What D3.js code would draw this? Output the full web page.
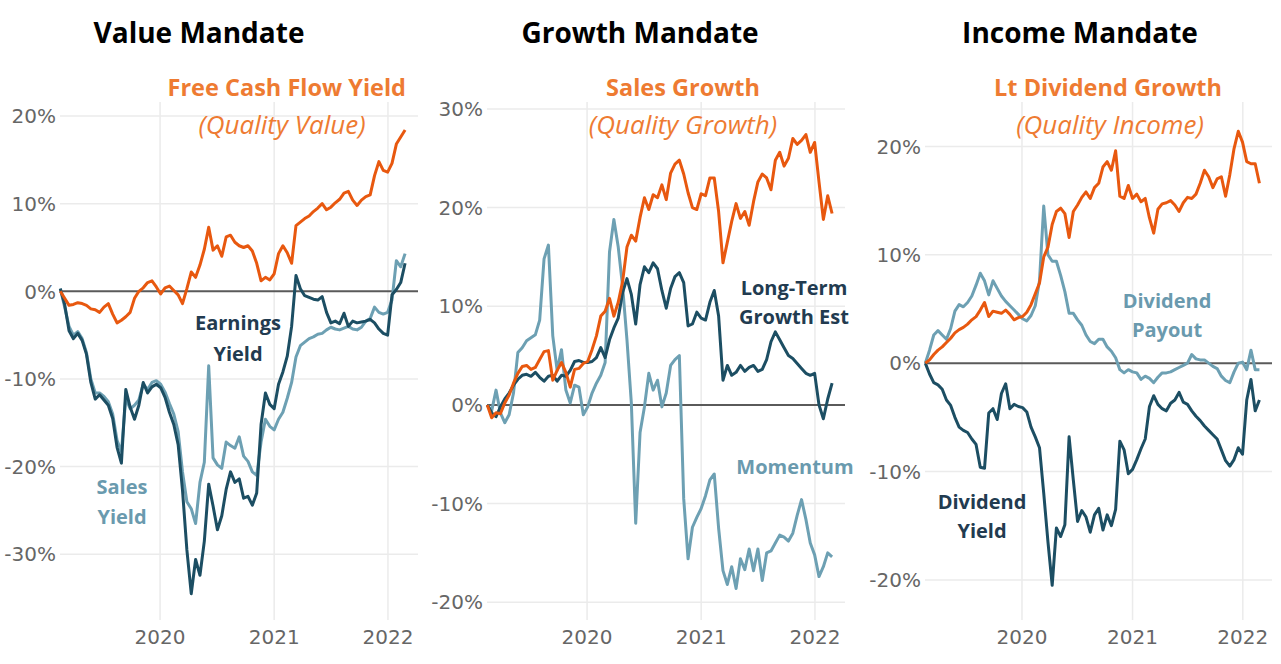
<!DOCTYPE html>
<html>
<head>
<meta charset="utf-8">
<script src="https://cdn.jsdelivr.net/npm/d3@7"></script>
<style>
  html, body { margin: 0; padding: 0; background: #ffffff; }
  svg { display: block; }
</style>
</head>
<body>
<svg id="chart" width="1281" height="664"></svg>
<script>
// ---------------- DATA ----------------
// sampling dates: every 2 weeks starting mid-Feb 2019 (80 observations)
const startDate = new Date(2019, 1, 15);
const dates = d3.range(80).map(i => d3.timeDay.offset(startDate, 14 * i));

const panelTitles = ["Value Mandate", "Growth Mandate", "Income Mandate"];
const qualityNames = ["Free Cash Flow Yield", "Sales Growth", "Lt Dividend Growth"];
const qualitySubs = ["(Quality Value)", "(Quality Growth)", "(Quality Income)"];
const yearTicks = [2020, 2021, 2022];
const yTicks1 = [-30, -20, -10, 0, 10, 20];
const yTicks2 = [-20, -10, 0, 10, 20, 30];
const yTicks3 = [-20, -10, 0, 10, 20];

// Value mandate (cumulative relative return, %)
const freeCashFlowYield = [0,-0.8,-1.6,-1.5,-1.3,-1.4,-1.6,-2.0,-2.1,-2.4,-1.8,-1.4,-2.6,-3.6,-3.3,-2.9,-2.4,-0.8,0.0,0.4,
  1.0,1.2,0.5,-0.3,0.4,0.6,0.1,-0.4,-1.4,0.3,2.2,1.6,3.0,4.8,7.3,4.7,5.2,4.0,6.2,6.4,
  5.6,5.2,5.0,5.2,4.6,3.2,1.2,1.6,1.3,2.0,4.3,5.2,4.4,3.2,7.5,7.9,8.3,8.6,9.1,9.5,
  10.0,9.3,9.6,10.1,10.5,11.2,11.4,10.4,9.8,10.4,10.8,11.0,13.2,14.8,13.8,13.6,14.6,16.8,17.6,18.4];
const earningsYield = [0.3,-1.5,-4.5,-5.4,-4.8,-5.6,-7.2,-10.4,-12.3,-11.8,-12.4,-13.0,-14.5,-17.8,-19.6,-11.2,-13.2,-14.6,-13.0,-10.4,
  -11.6,-10.9,-10.6,-11.0,-12.1,-13.8,-15.2,-17.5,-22.7,-29.5,-34.5,-30.6,-32.4,-28.5,-22.0,-24.5,-27.2,-25.6,-22.6,-20.6,
  -21.8,-21.4,-23.6,-23.4,-24.4,-23.0,-15.2,-11.6,-12.9,-13.4,-10.6,-9.2,-7.4,-4.0,1.8,0.3,-0.5,-0.7,-0.9,-1.0,
  -0.6,-2.4,-3.6,-3.4,-3.7,-2.5,-4.0,-3.4,-3.6,-3.5,-3.4,-3.2,-3.6,-4.3,-4.8,-5.0,-0.4,0.2,1.0,3.2];
const salesYield = [0.3,-1.8,-4.0,-5.0,-4.6,-5.4,-7.0,-10.0,-11.6,-11.6,-12.0,-12.6,-14.0,-17.0,-18.3,-12.2,-13.4,-13.0,-12.4,-10.6,
  -11.2,-10.4,-10.2,-10.6,-11.5,-12.8,-14.0,-16.0,-20.6,-24.0,-24.8,-26.5,-21.8,-19.5,-8.5,-19.0,-19.8,-20.2,-17.2,-17.6,
  -17.9,-16.6,-18.8,-19.4,-20.6,-21.0,-17.2,-14.6,-15.4,-15.8,-14.6,-13.8,-12.2,-10.4,-7.5,-6.2,-5.8,-5.4,-5.2,-4.9,
  -4.8,-4.4,-4.1,-4.3,-4.4,-4.2,-4.0,-4.3,-4.4,-4.1,-3.4,-3.1,-1.8,-2.4,-2.6,-2.4,-1.0,3.5,2.8,4.3];

// Growth mandate
const salesGrowth = [0,-1.3,-0.8,-0.9,0.2,1.0,2.2,3.2,3.9,4.0,3.6,3.8,4.6,5.4,5.5,2.5,3.5,4.3,3.3,1.8,
  3.6,3.7,4.2,4.4,5.6,7.0,9.0,9.5,10.8,9.0,10.4,12.5,16.0,17.2,16.6,19.0,21.0,19.8,21.3,21.0,
  22.3,20.8,23.5,24.4,24.8,23.4,21.5,20.0,19.8,21.4,21.2,23.0,23.0,19.6,14.4,16.5,18.6,20.4,18.9,19.6,
  18.2,20.6,22.6,23.4,23.0,21.8,24.8,25.6,24.2,25.0,27.0,26.4,26.8,27.4,25.6,26.6,22.6,18.8,21.2,19.4];
const longTermGrowthEst = [0,-0.8,-1.2,-0.2,0.6,1.2,2.0,2.6,3.0,3.1,2.9,3.3,2.8,2.4,2.9,3.0,2.4,3.0,2.9,3.5,
  4.4,4.5,4.3,4.3,4.4,4.8,5.8,4.8,6.6,7.8,8.8,11.4,12.8,11.2,8.2,12.2,14.0,13.4,14.4,13.8,
  11.6,9.8,11.8,13.0,13.4,12.4,8.0,8.2,9.4,8.8,8.6,10.4,11.6,9.0,2.5,4.0,3.0,3.3,4.0,3.4,
  3.8,4.0,3.4,3.6,4.6,6.4,7.4,6.6,5.8,5.0,4.7,4.2,3.7,3.2,3.0,3.2,0.0,-1.4,0.6,2.2];
const momentum = [0,-0.6,1.5,-0.8,-1.8,-1.0,1.2,5.3,5.8,6.5,6.8,7.1,8.6,14.8,16.2,7.0,3.5,5.6,1.5,0.2,
  2.0,1.8,-1.0,-0.2,1.2,2.2,3.0,4.3,15.5,18.8,16.0,12.0,6.6,0.2,-12.0,-2.8,-0.2,3.2,1.5,2.5,
  -0.2,1.2,4.0,4.6,5.0,-9.5,-15.6,-12.4,-11.4,-10.5,-9.2,-7.6,-7.0,-12.5,-16.8,-18.2,-16.4,-18.6,-15.6,-16.7,
  -14.6,-16.8,-14.6,-17.8,-15.0,-14.8,-14.0,-13.2,-13.4,-13.8,-13.0,-11.2,-9.6,-11.6,-14.0,-15.2,-17.4,-16.4,-15.0,-15.4];

// Income mandate
const ltDividendGrowth = [0,0.3,0.8,1.2,1.5,1.9,2.3,2.8,3.1,3.3,3.6,4.0,4.3,4.9,5.6,4.3,4.8,4.7,4.6,4.9,
  4.5,4.0,4.2,4.3,4.7,5.4,6.4,7.4,9.8,10.7,12.8,14.0,14.3,13.8,11.6,14.0,14.6,15.3,15.8,15.2,
  16.2,16.6,18.1,18.6,17.8,19.6,15.4,15.2,16.4,15.2,15.6,14.9,15.2,13.4,12.0,14.2,14.7,14.8,15.0,14.6,
  14.0,14.8,15.3,15.2,15.6,16.6,17.8,17.2,16.2,17.0,17.2,15.4,17.4,19.8,21.4,20.4,18.6,18.4,18.4,16.6];
const dividendPayout = [0,1.2,2.6,3.0,2.6,2.2,3.2,4.8,5.4,5.2,5.6,6.2,7.2,8.3,7.6,6.3,7.6,6.9,6.2,5.7,
  5.3,4.9,4.5,4.1,3.9,4.4,5.3,7.6,14.5,10.0,9.4,9.4,8.1,6.6,4.6,4.6,4.0,3.5,2.6,2.0,
  1.8,2.2,2.2,1.5,1.1,0.5,-0.6,-0.9,-0.6,-0.8,-0.9,-1.5,-1.2,-1.4,-1.8,-1.3,-0.9,-0.9,-0.8,-0.6,
  -0.4,-0.2,0.0,0.8,0.4,0.3,0.3,0.0,-0.3,-0.5,-1.2,-1.6,-1.8,-0.8,0.0,0.1,-0.6,1.2,-0.6,-0.6];
const dividendYield = [0,-1.0,-1.8,-2.0,-2.4,-3.4,-3.9,-5.0,-5.9,-6.2,-6.4,-7.0,-7.5,-9.6,-9.7,-4.6,-4.2,-5.2,-2.8,-1.9,
  -4.2,-3.8,-4.0,-4.1,-4.5,-5.9,-6.8,-7.8,-12.0,-16.5,-20.5,-15.2,-16.0,-14.9,-6.8,-10.8,-14.6,-13.6,-14.2,-15.6,
  -14.0,-13.4,-15.4,-14.0,-15.0,-13.5,-7.2,-8.0,-10.2,-9.8,-8.9,-7.9,-7.0,-4.0,-3.0,-3.8,-4.2,-4.4,-3.7,-3.4,
  -2.7,-3.6,-3.8,-4.4,-4.9,-5.3,-5.8,-6.2,-6.6,-7.0,-8.0,-9.0,-9.5,-8.9,-7.8,-8.4,-3.4,-1.5,-4.4,-3.4];

// ---------------- STYLE ----------------
const C = {
  orangeLine: "#E8580F",
  orangeText: "#EE7B32",
  dark: "#1C4E63",
  darkText: "#223B50",
  light: "#6DA0B3",
  lightText: "#6A9AAE",
  grid: "#EBEBEB",
  zero: "#5a5a5a",
  tick: "#666666"
};
const FONT = "'Open Sans', 'Noto Sans', sans-serif";
const TICKFONT = "'DejaVu Sans', 'Open Sans', sans-serif";

const panels = [
  { title: panelTitles[0], titleX: 199, left: 60, right: 416, yDomain: [-37.5, 21.6], yTicks: yTicks1,
    qx: 406, qAnchor: "end", subX: 282, name: qualityNames[0], sub: qualitySubs[0],
    series: [
      { values: salesYield, color: C.light },
      { values: earningsYield, color: C.dark },
      { values: freeCashFlowYield, color: C.orangeLine }
    ],
    labels: [
      { lines: ["Earnings", "Yield"], x: 238, y: [323, 354], color: C.darkText },
      { lines: ["Sales", "Yield"], x: 122, y: [487, 517], color: C.lightText }
    ]
  },
  { title: panelTitles[1], titleX: 640, left: 487, right: 843, yDomain: [-21.8, 30.7], yTicks: yTicks2,
    qx: 683, qAnchor: "middle", subX: 683, name: qualityNames[1], sub: qualitySubs[1],
    series: [
      { values: momentum, color: C.light },
      { values: longTermGrowthEst, color: C.dark },
      { values: salesGrowth, color: C.orangeLine }
    ],
    labels: [
      { lines: ["Long-Term", "Growth Est"], x: 794, y: [288, 317], color: C.darkText },
      { lines: ["Momentum"], x: 795, y: [467], color: C.lightText }
    ]
  },
  { title: panelTitles[2], titleX: 1080, left: 925, right: 1270, yDomain: [-23.7, 24.1], yTicks: yTicks3,
    qx: 1108, qAnchor: "middle", subX: 1110, name: qualityNames[2], sub: qualitySubs[2],
    series: [
      { values: dividendPayout, color: C.light },
      { values: dividendYield, color: C.dark },
      { values: ltDividendGrowth, color: C.orangeLine }
    ],
    labels: [
      { lines: ["Dividend", "Payout"], x: 1167, y: [301, 330], color: C.lightText },
      { lines: ["Dividend", "Yield"], x: 982, y: [502, 531], color: C.darkText }
    ]
  }
];

const TOP = 102, BOTTOM = 620;
const xDomain = [new Date(2019, 1, 14), new Date(2022, 3, 1)];

const svg = d3.select("#chart");
svg.append("rect").attr("width", 1281).attr("height", 664).attr("fill", "#fff");

panels.forEach(p => {
  const g = svg.append("g");
  const x = d3.scaleTime().domain(xDomain).range([p.left, p.right]);
  const y = d3.scaleLinear().domain(p.yDomain).range([BOTTOM, TOP]);

  // vertical gridlines (years)
  g.selectAll("line.vg").data(yearTicks).join("line")
    .attr("x1", d => x(new Date(d, 0, 1))).attr("x2", d => x(new Date(d, 0, 1)))
    .attr("y1", TOP).attr("y2", BOTTOM)
    .attr("stroke", C.grid).attr("stroke-width", 1.5);

  // horizontal gridlines
  g.selectAll("line.hg").data(p.yTicks.filter(v => v !== 0)).join("line")
    .attr("x1", p.left).attr("x2", p.right + 2)
    .attr("y1", d => y(d)).attr("y2", d => y(d))
    .attr("stroke", C.grid).attr("stroke-width", 1.5);

  // y tick labels
  g.selectAll("text.yt").data(p.yTicks).join("text")
    .attr("x", p.left - 4).attr("y", d => y(d))
    .attr("dy", "0.36em").attr("text-anchor", "end")
    .attr("font-family", TICKFONT).attr("font-size", 20).attr("fill", C.tick)
    .text(d => d + "%");

  // x tick labels
  g.selectAll("text.xt").data(yearTicks).join("text")
    .attr("x", d => x(new Date(d, 0, 1))).attr("y", 637)
    .attr("dy", "0.36em").attr("text-anchor", "middle")
    .attr("font-family", TICKFONT).attr("font-size", 20).attr("fill", C.tick)
    .text(d => d);

  // zero line
  g.append("line")
    .attr("x1", p.left).attr("x2", p.right + 2)
    .attr("y1", y(0)).attr("y2", y(0))
    .attr("stroke", C.zero).attr("stroke-width", 2);

  // series
  const line = d3.line().x((d, i) => x(dates[i])).y(d => y(d)).curve(d3.curveLinear);
  p.series.forEach(s => {
    g.append("path").datum(s.values)
      .attr("d", line)
      .attr("fill", "none").attr("stroke", s.color)
      .attr("stroke-width", 3).attr("stroke-linejoin", "round");
  });

  // panel title
  g.append("text").attr("x", p.titleX).attr("y", 43)
    .attr("text-anchor", "middle").attr("font-family", FONT)
    .attr("font-weight", 700).attr("font-size", 28).attr("fill", "#000")
    .text(p.title);

  // quality factor name + subtitle
  g.append("text").attr("x", p.qx).attr("y", 88).attr("dy", "0.35em")
    .attr("text-anchor", p.qAnchor).attr("font-family", FONT)
    .attr("font-weight", 700).attr("font-size", 23.5).attr("fill", C.orangeText)
    .text(p.name);
  g.append("text").attr("x", p.subX).attr("y", 125).attr("dy", "0.35em")
    .attr("text-anchor", "middle").attr("font-family", FONT)
    .attr("font-style", "italic").attr("font-size", 26).attr("fill", C.orangeText)
    .text(p.sub);

  // series labels
  p.labels.forEach(l => {
    l.lines.forEach((t, k) => {
      g.append("text").attr("x", l.x).attr("y", l.y[k]).attr("dy", "0.35em")
        .attr("text-anchor", "middle").attr("font-family", FONT)
        .attr("font-weight", 700).attr("font-size", 20).attr("fill", l.color)
        .text(t);
    });
  });
});
</script>
</body>
</html>
